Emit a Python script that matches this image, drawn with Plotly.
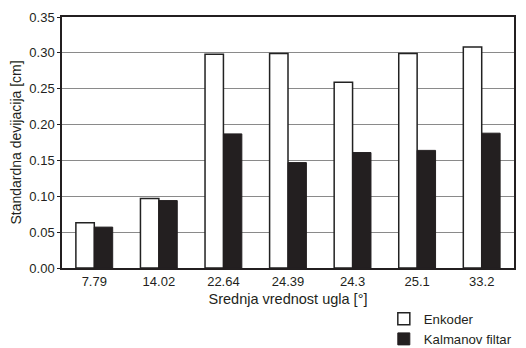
import plotly.graph_objects as go

categories = ["7.79", "14.02", "22.64", "24.39", "24.3", "25.1", "33.2"]
enkoder = [0.063, 0.097, 0.298, 0.299, 0.259, 0.299, 0.308]
kalman = [0.057, 0.094, 0.187, 0.147, 0.161, 0.164, 0.188]
series_names = ["Enkoder", "Kalmanov filtar"]

fig = go.Figure()
fig.add_trace(go.Bar(x=categories, y=enkoder, name=series_names[0],
                     marker=dict(color="white", line=dict(color="#222222", width=1.5))))
fig.add_trace(go.Bar(x=categories, y=kalman, name=series_names[1],
                     marker=dict(color="#231f20", line=dict(color="#231f20", width=1))))

# page has an 8px body margin, so the figure is offset by (8, 8)
fig.update_layout(
    width=518, height=340,
    margin=dict(l=54, r=12, t=9, b=80, autoexpand=False),
    paper_bgcolor="white", plot_bgcolor="white",
    barmode="group", bargap=0.43, bargroupgap=0,
    font=dict(family="Liberation Sans, Arial, sans-serif", size=13, color="#231f20"),
    xaxis=dict(type="category", showline=True, linecolor="#231f20", linewidth=2,
               mirror=True, ticks="", tickfont=dict(size=13),
               title=dict(text="Srednja vrednost ugla [°]", font=dict(size=14.5), standoff=6)),
    yaxis=dict(range=[0, 0.35], dtick=0.05, tickformat=".2f", showgrid=True,
               gridcolor="#8a8a8a", gridwidth=1, showline=True, linecolor="#231f20",
               linewidth=1.5, mirror=True, ticks="outside", ticklen=3,
               tickcolor="#231f20", tickfont=dict(size=13),
               title=dict(text="Standardna devijacija [cm]", font=dict(size=14), standoff=6)),
    legend=dict(x=0.712, y=-0.142, xanchor="left", yanchor="top", xref="paper",
                font=dict(size=13.2), tracegroupgap=0, itemwidth=30,
                bgcolor="rgba(0,0,0,0)"),
    showlegend=True,
)

fig.write_html("out.html")
